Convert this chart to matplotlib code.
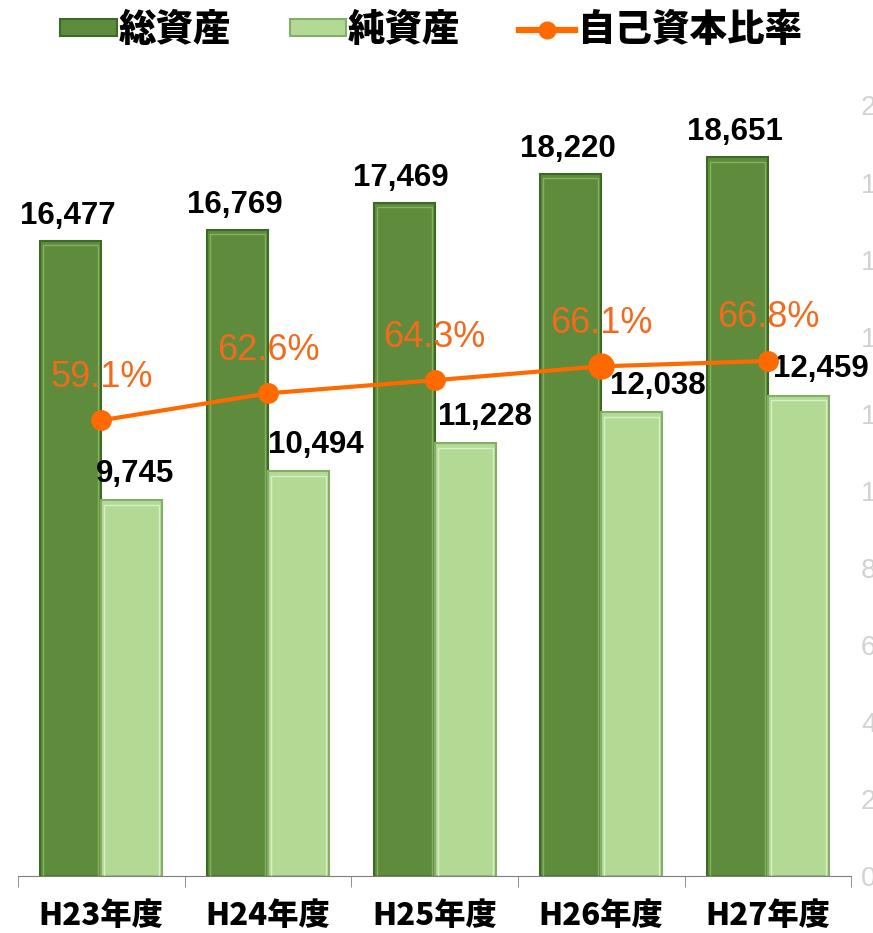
import numpy as np
import matplotlib
matplotlib.use("Agg")
import matplotlib.pyplot as plt
from matplotlib.patches import Patch
from matplotlib.lines import Line2D
from matplotlib.ticker import FuncFormatter

plt.rcParams['font.family'] = ['Liberation Sans', 'Noto Sans CJK JP', 'DejaVu Sans']

# ---------------------------
# Data
# ---------------------------
years = ["H23年度", "H24年度", "H25年度", "H26年度", "H27年度"]
total_assets = [16477, 16769, 17469, 18220, 18651]   # 総資産
net_assets = [9745, 10494, 11228, 12038, 12459]      # 純資産
equity_ratio = [59.1, 62.6, 64.3, 66.1, 66.8]        # 自己資本比率 (%)
value_ticks = [0, 2000, 4000, 6000, 8000, 10000, 12000, 14000, 16000, 18000, 20000]

# ---------------------------
# Style
# ---------------------------
DARK = "#5E8C3C"
DARK_EDGE = "#3E6826"
DARK_HI = "#86B25F"
LIGHT = "#B3DA95"
LIGHT_EDGE = "#86AC69"
LIGHT_HI = "#D8EFC6"
ORANGE = "#FF6A00"
JP = ['Noto Sans CJK JP', 'DejaVu Sans']

fig = plt.figure(figsize=(8.73, 9.33), dpi=100)
ax = fig.add_axes([0.0206, 0.0611, 0.9544, 0.8264])
ax2 = ax.twinx()

x = np.arange(len(years))
w = 0.366

bars_t = ax.bar(x - w / 2, total_assets, w, color=DARK, edgecolor=DARK_EDGE, linewidth=1.5, zorder=2)
bars_n = ax.bar(x + w / 2, net_assets, w, color=LIGHT, edgecolor=LIGHT_EDGE, linewidth=1.5, zorder=2)
# thin bevel highlight just inside each bar
ax.bar(x - w / 2, np.array(total_assets) - 120, w * 0.9, color="none", edgecolor=DARK_HI, linewidth=1, zorder=2)
ax.bar(x + w / 2, np.array(net_assets) - 120, w * 0.9, color="none", edgecolor=LIGHT_HI, linewidth=1, zorder=2)

ax.set_xlim(-0.5, len(years) - 0.5)
ax.set_ylim(0, 20000)

# value labels
for b, v in zip(bars_t, total_assets):
    ax.annotate(f"{v:,}", (b.get_x() + b.get_width() / 2, v), xytext=(-2, 18),
                textcoords="offset points", ha="center", va="center",
                fontsize=22.5, fontweight="bold", color="black", zorder=5)

light_dx = [3, 17, 20, 26, 23]  # px, labels sit a bit to the right
for b, v, dx in zip(bars_n, net_assets, light_dx):
    ax.annotate(f"{v:,}", (b.get_x() + b.get_width() / 2, v), xytext=(dx * 0.72, 19),
                textcoords="offset points", ha="center", va="center",
                fontsize=22.5, fontweight="bold", color="black", zorder=5)

# x axis
for a in (ax, ax2):
    for s in ["left", "right", "top"]:
        a.spines[s].set_visible(False)
ax.spines["bottom"].set_color("#7F7F7F")
ax2.spines["bottom"].set_visible(False)
ax.set_xticks(x)
ax.set_xticklabels(years, family=JP, fontsize=22.5, fontweight="black")
ax.set_xticks(np.arange(len(years) + 1) - 0.5, minor=True)
ax.tick_params(axis="x", which="major", length=0, pad=17)
ax.tick_params(axis="x", which="minor", length=8, color="#7F7F7F", direction="out")

# value axis labels on the right (mostly cut off by the picture edge)
ax.yaxis.tick_right()
ax.set_yticks(value_ticks)
ax.yaxis.set_major_formatter(FuncFormatter(lambda v, p: f"{int(v):,}"))
ax.tick_params(axis="y", length=0, pad=7, labelsize=20, labelcolor="#D2D2D2",
               labelleft=False, labelright=True)

# ratio line on a hidden secondary axis
ax2.set_ylim(0, 100)
ax2.set_yticks([])
ax2.plot(x, equity_ratio, color=ORANGE, lw=3, zorder=3)
sizes = [14, 14, 14, 18, 14]
for xi, r, ms in zip(x, equity_ratio, sizes):
    ax2.plot(xi, r, "o", ms=ms, color=ORANGE, zorder=4)
    ax2.annotate(f"{r}%", (xi, r), xytext=(0, 31), textcoords="offset points",
                 ha="center", va="center", fontsize=26, color="#F26B1D", zorder=5)

# legend
handles = [
    Patch(facecolor=DARK, edgecolor=DARK_EDGE, linewidth=1.5),
    Patch(facecolor=LIGHT, edgecolor=LIGHT_EDGE, linewidth=1.5),
    Line2D([], [], color=ORANGE, lw=4.5, marker="o", ms=12),
]
fig.legend(handles, ["総資産", "純資産", "自己資本比率"], loc="center",
           bbox_to_anchor=(0.494, 0.968), ncol=3, frameon=False,
           prop={"family": JP, "size": 27, "weight": "black"},
           handlelength=1.5, handleheight=0.35, handletextpad=0.06, columnspacing=1.55,
           borderpad=0, borderaxespad=0)

fig.savefig("out.png", dpi=100)
